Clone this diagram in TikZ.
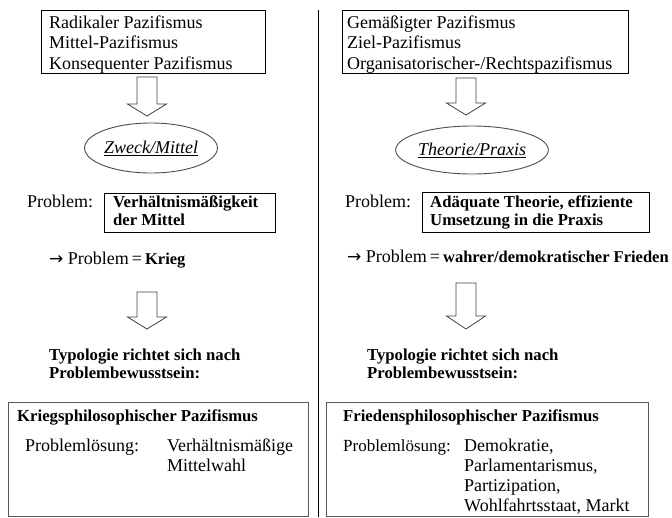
\documentclass[tikz,border=0pt]{standalone}
\usepackage{fontspec}
\setmainfont{Liberation Serif}
\newfontfamily\arrowfont{DejaVu Sans}
\usetikzlibrary{shapes.geometric}
\tikzset{
  t/.style={anchor=base west, inner sep=0pt, font=\fontsize{18}{20}\selectfont},
  tb/.style={t, font=\fontsize{16.7}{20}\bfseries\selectfont},
  topbox/.style={draw=black, line width=0.9pt, anchor=north west, inner sep=0pt},
  botbox/.style={draw=black!65, line width=1.3pt, anchor=north west, inner sep=0pt},
  oval/.style={ellipse, draw=black!70, line width=0.9pt, inner sep=0pt, font=\fontsize{18}{20}\itshape\selectfont},
  hollow/.style={draw=black!75, line width=0.8pt, fill=white, line join=miter},
  divider/.style={draw=black, line width=0.9pt}
}
\newcommand{\rarr}{{\arrowfont\fontsize{17}{20}\selectfont →}}
\newcommand{\bfpart}[1]{{\fontsize{16.5}{20}\bfseries\selectfont #1}}
% hollow block arrow: #1 = centre x, #2 = top y, #3 = head base y, #4 = tip y
\newcommand{\blockdown}[4]{%
  \draw[hollow] (#1-10,#2) -- (#1+10,#2) -- (#1+10,#3) -- (#1+19.5,#3) -- (#1,#4)
     -- (#1-19.5,#3) -- (#1-10,#3) -- cycle;}
\begin{document}
\begin{tikzpicture}[x=1pt,y=-1pt]
\useasboundingbox (0,0) rectangle (672,517);

% divider
\coordinate (dtop) at (318,10);
\coordinate (dbot) at (318,517);
\draw[divider] (dtop) -- (dbot);

% ---------------- left column ----------------
\node[topbox, minimum width=224, minimum height=63] (L1) at (41,10) {};
\node[t] (L1a) at (49,28) {Radikaler Pazifismus};
\node[t] (L1b) at (49,48.5) {Mittel-Pazifismus};
\node[t] (L1c) at (49,69) {Konsequenter Pazifismus};

\blockdown{147}{77}{104}{116}

\node[oval, minimum width=130, minimum height=50] (LE) at (151,148) {\underline{Zweck/Mittel}};

\node[t] (LP) at (27,207) {Problem:};
\node[topbox, minimum width=171, minimum height=39] (LPB) at (104,193) {};
\node[tb] (LPB1) at (113,207) {Verhältnismäßigkeit};
\node[tb] (LPB2) at (113,225) {der Mittel};

\node[t] (LK) at (49,264) {\rarr{} Problem\,=\,\bfpart{Krieg}};

\blockdown{147}{292}{317}{329}

\node[tb] (LT1) at (49,360) {Typologie richtet sich nach};
\node[tb] (LT2) at (49,378) {Problembewusstsein:};

\node[botbox, minimum width=300, minimum height=113.5] (LB) at (8,402) {};
\node[tb] (LB1) at (17,421) {Kriegsphilosophischer Pazifismus};
\node[t] (LB2) at (25,451) {Problemlösung:};
\node[t] (LB3) at (167,451) {Verhältnismäßige};
\node[t] (LB4) at (167,471) {Mittelwahl};

% ---------------- right column ----------------
\node[topbox, minimum width=286, minimum height=63] (R1) at (342,10) {};
\node[t] (R1a) at (347,28) {Gemäßigter Pazifismus};
\node[t] (R1b) at (347,48.5) {Ziel-Pazifismus};
\node[t] (R1c) at (347,69) {Organisatorischer-/Rechtspazifismus};

\blockdown{466}{78}{103}{115}

\node[oval, minimum width=130, minimum height=48] (RE) at (472,150) {\underline{Theorie/Praxis}};

\node[t] (RP) at (345,207) {Problem:};
\node[topbox, minimum width=227, minimum height=40] (RPB) at (422,192) {};
\node[tb] (RPB1) at (430,207) {Adäquate Theorie, effiziente};
\node[tb] (RPB2) at (430,225) {Umsetzung in die Praxis};

\node[t] (RK) at (347,262) {\rarr{} Problem\,=\,\bfpart{wahrer/demokratischer Frieden}};

\blockdown{466}{283}{316}{329}

\node[tb] (RT1) at (367,360) {Typologie richtet sich nach};
\node[tb] (RT2) at (367,378) {Problembewusstsein:};

\node[botbox, minimum width=322, minimum height=113.5] (RB) at (326,402) {};
\node[tb] (RB1) at (343,421) {Friedensphilosophischer Pazifismus};
\node[t, font=\fontsize{17}{20}\selectfont] (RB2) at (343,451) {Problemlösung:};
\node[t] (RB3) at (464,451) {Demokratie,};
\node[t] (RB4) at (464,471) {Parlamentarismus,};
\node[t] (RB5) at (464,491) {Partizipation,};
\node[t] (RB6) at (464,511) {Wohlfahrtsstaat, Markt};
\end{tikzpicture}
\end{document}
